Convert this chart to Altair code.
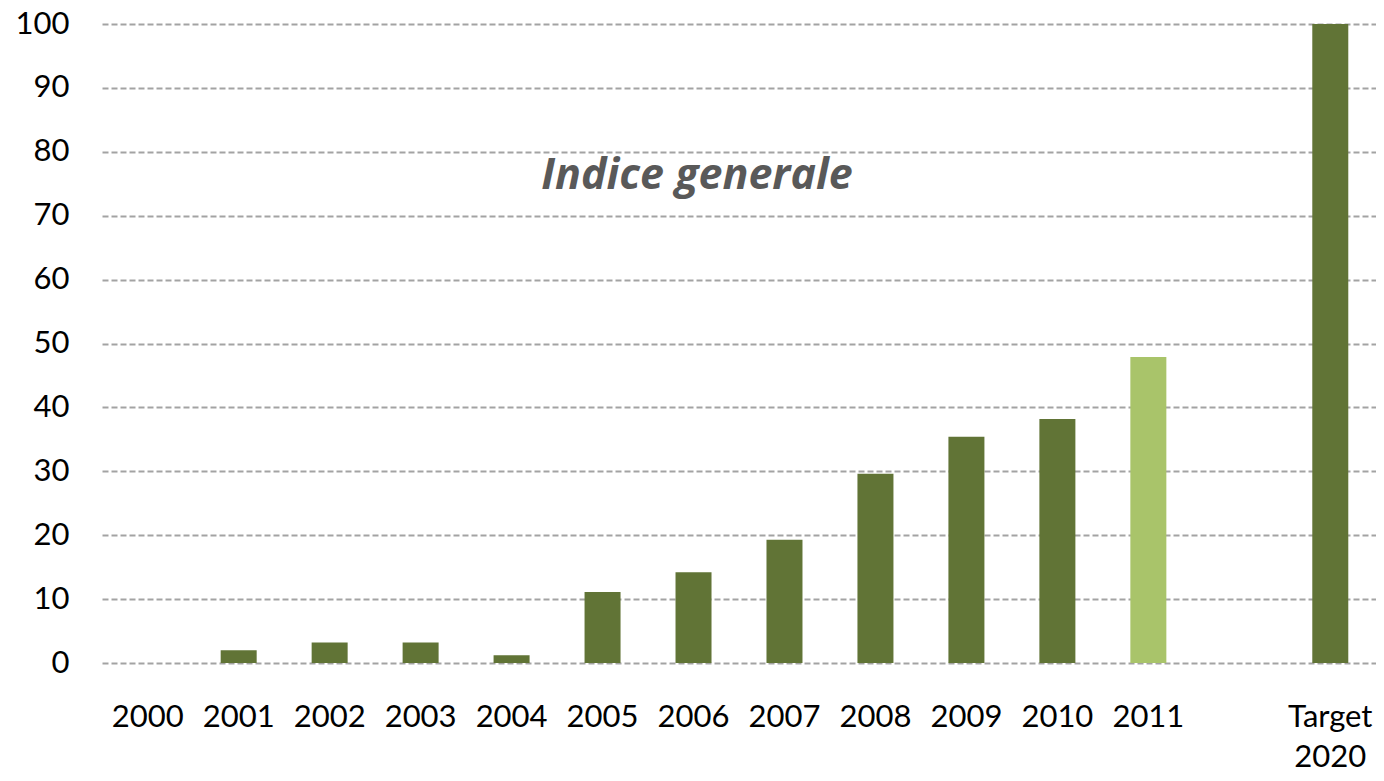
import altair as alt
import pandas as pd

categories = ["2000", "2001", "2002", "2003", "2004", "2005", "2006",
              "2007", "2008", "2009", "2010", "2011", " ", "Target 2020"]
bar_cats = ["2000", "2001", "2002", "2003", "2004", "2005", "2006",
            "2007", "2008", "2009", "2010", "2011", "Target 2020"]
values = [0, 2.0, 3.2, 3.2, 1.2, 11.1, 14.2, 19.3, 29.6, 35.4, 38.2, 47.9, 100]
kinds = ["hist"] * 11 + ["latest", "hist"]

df = pd.DataFrame({"cat": bar_cats, "val": values, "kind": kinds})

FONT = "Lato"

x_enc = alt.X("cat:N", sort=categories,
              scale=alt.Scale(domain=categories, paddingInner=0.615, paddingOuter=0.31),
              axis=alt.Axis(title=None, labelAngle=0, labelFontSize=31, labelFont=FONT,
                            labelColor="#000000", labelPadding=54, ticks=False, domain=False,
                            grid=False, labelBaseline="middle",
                            labelExpr="datum.label == 'Target 2020' ? ['Target', '2020'] : datum.label",
                            labelLineHeight=40))

bars = alt.Chart(df).mark_bar(size=36).encode(
    x=x_enc,
    y=alt.Y("val:Q", scale=alt.Scale(domain=[0, 100], nice=False),
            axis=alt.Axis(title=None, values=list(range(0, 101, 10)), labelFontSize=31,
                          labelFont=FONT, labelColor="#000000", labelPadding=33,
                          ticks=False, domain=False, grid=True, gridColor="#a3a3a3",
                          gridDash=[6, 3], gridWidth=2)),
    color=alt.Color("kind:N", scale=alt.Scale(domain=["hist", "latest"],
                                              range=["#617436", "#a9c46a"]), legend=None),
)

label_df = pd.DataFrame({"t": ["Indice generale"], "v": [76.2]})
label = alt.Chart(label_df).mark_text(
    font="Open Sans", fontSize=43, fontStyle="italic", fontWeight="bold", color="#595959",
    align="center", baseline="middle"
).encode(x=alt.value(595), y=alt.Y("v:Q"), text="t:N")

chart = alt.layer(bars, label).properties(
    width=1274, height=639,
    autosize=alt.AutoSizeParams(type="none"),
    padding={"left": 94, "top": 16, "right": 0, "bottom": 110},
    background="#ffffff",
).configure_view(stroke=None)

chart.save("out.html", embed_options={"renderer": "svg", "actions": False})
